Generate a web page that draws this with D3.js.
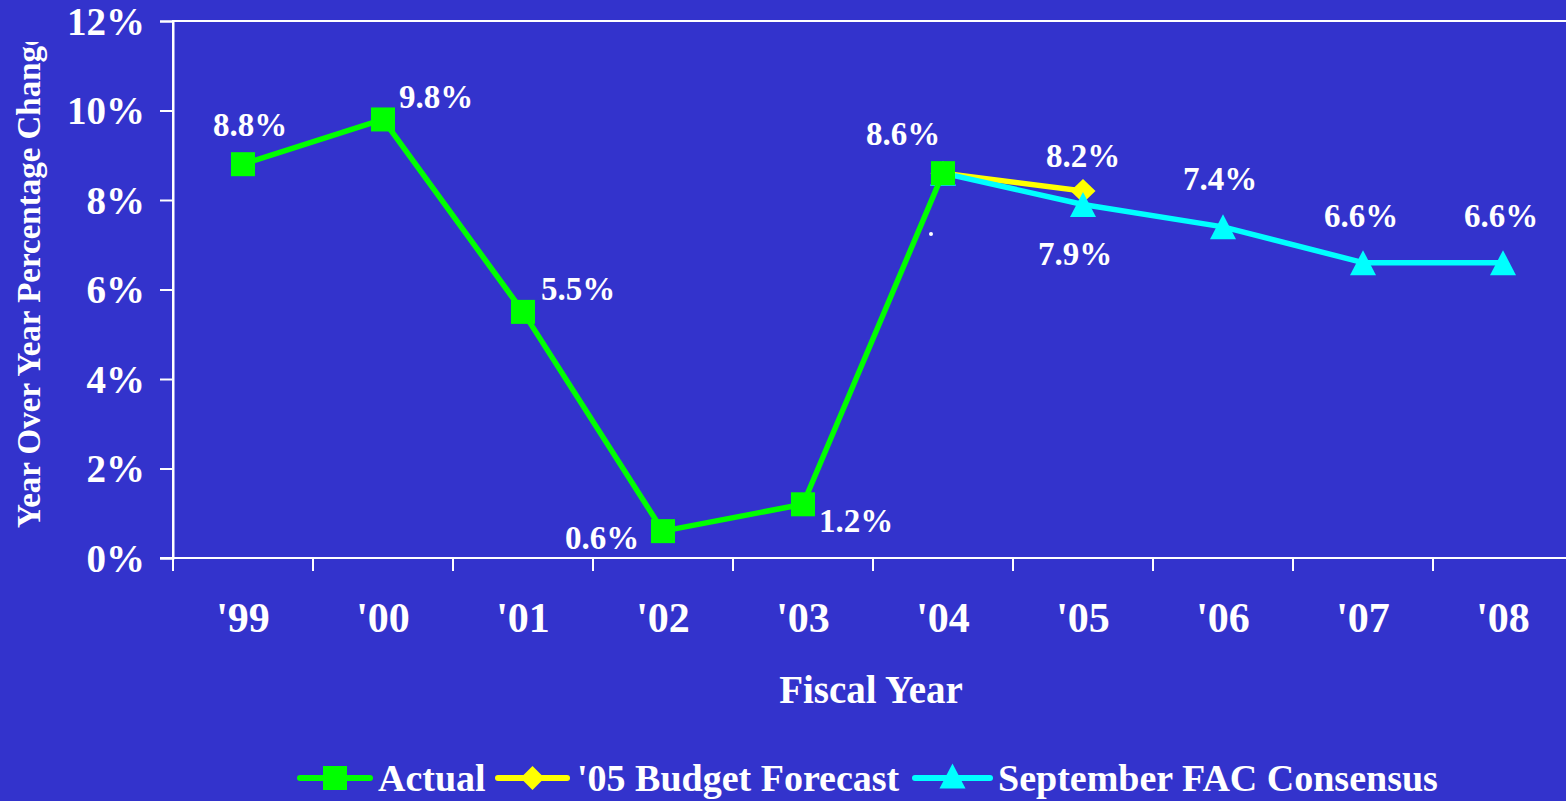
<!DOCTYPE html>
<html>
<head>
<meta charset="utf-8">
<script src="https://cdn.jsdelivr.net/npm/d3@7"></script>
<style>
  html, body { margin: 0; padding: 0; background: #3333CC; }
  svg { display: block; }
  text { font-family: "Liberation Serif", "Times New Roman", serif; font-weight: bold; fill: #ffffff; }
</style>
</head>
<body>
<svg id="chart" width="1566" height="801"></svg>
<script>
// ---- data ----
const categories = ["'99", "'00", "'01", "'02", "'03", "'04", "'05", "'06", "'07", "'08"];
const actualYears = ["'99", "'00", "'01", "'02", "'03", "'04"];
const actualValues = [8.8, 9.8, 5.5, 0.6, 1.2, 8.6];
const budgetYears = ["'04", "'05"];
const budgetValues = [8.6, 8.2];
const consensusYears = ["'04", "'05", "'06", "'07", "'08"];
const consensusValues = [8.6, 7.9, 7.4, 6.6, 6.6];
const yTicks = [0, 2, 4, 6, 8, 10, 12];
const seriesNames = ["Actual", "'05 Budget Forecast", "September FAC Consensus"];

// ---- label placement (layout, not data) ----
const actualLabelOffsets = [[7, -28], [53, -11], [55, -12], [-61, 18], [53, 28], [-40, -28]];
const budgetLabelOffsets = [null, [0, -24]];
const consensusLabelOffsets = [null, [-8, 61], [-3, -37], [-2, -36], [-2, -36]];

const svg = d3.select("#chart");
const W = 1566, H = 801;
const pLeft = 173, pRight = 1573, pTop = 21, pBottom = 558;

svg.append("rect").attr("width", W).attr("height", H).attr("fill", "#3333CC");

const x = d3.scaleBand().domain(categories).range([pLeft, pRight]).padding(0);
const y = d3.scaleLinear().domain([0, 12]).range([pBottom, pTop]);
const cx = d => x(d) + x.bandwidth() / 2;

const GREEN = "#00FF00", YELLOW = "#FFFF00", CYAN = "#00FFFF";

// plot frame
svg.append("rect")
  .attr("x", pLeft).attr("y", pTop)
  .attr("width", pRight - pLeft).attr("height", pBottom - pTop)
  .attr("fill", "none").attr("stroke", "#ffffff").attr("stroke-width", 2);

// y axis
const yAxis = d3.axisLeft(y).tickValues(yTicks).tickSize(13).tickPadding(15)
  .tickFormat(d => d + "%");
const gy = svg.append("g").attr("transform", `translate(${pLeft},0)`).call(yAxis);
gy.select(".domain").attr("stroke", "#ffffff").attr("stroke-width", 2);
gy.selectAll(".tick line").attr("stroke", "#ffffff").attr("stroke-width", 2);
gy.selectAll(".tick text")
  .attr("fill", "#ffffff")
  .style("font-family", '"Liberation Serif", "Times New Roman", serif')
  .style("font-weight", "bold")
  .style("font-size", "39px")
  .attr("dy", "0.34em");

// x axis: labels at band centres, ticks at band boundaries
const xAxis = d3.axisBottom(x).tickSize(0).tickPadding(0);
const gx = svg.append("g").attr("transform", `translate(0,${pBottom})`).call(xAxis);
gx.select(".domain").remove();
gx.selectAll(".tick text")
  .attr("fill", "#ffffff")
  .style("font-family", '"Liberation Serif", "Times New Roman", serif')
  .style("font-weight", "bold")
  .style("font-size", "42px")
  .attr("y", 74).attr("dy", 0);
const boundaries = categories.map(c => x(c)).concat([x.range()[1]]);
svg.append("g").selectAll("line").data(boundaries).join("line")
  .attr("x1", d => d).attr("x2", d => d)
  .attr("y1", pBottom).attr("y2", pBottom + 13)
  .attr("stroke", "#ffffff").attr("stroke-width", 2);
svg.append("line").attr("x1", pLeft - 13).attr("x2", pLeft)
  .attr("y1", pBottom).attr("y2", pBottom).attr("stroke", "#ffffff").attr("stroke-width", 2);

// axis titles
svg.append("text")
  .attr("x", 871).attr("y", 703)
  .attr("text-anchor", "middle")
  .style("font-size", "39px")
  .text("Fiscal Year");

svg.append("clipPath").attr("id", "ytclip")
  .append("rect").attr("x", 0).attr("y", 42).attr("width", 80).attr("height", 760);
svg.append("g").attr("clip-path", "url(#ytclip)")
  .append("text")
  .attr("transform", "translate(40,528) rotate(-90)")
  .attr("text-anchor", "start")
  .style("font-size", "33px")
  .text("Year Over Year Percentage Change");

// line generator
const line = d3.line().x(d => cx(d[0])).y(d => y(d[1]));
const zip = (a, b) => a.map((k, i) => [k, b[i]]);

const actual = zip(actualYears, actualValues);
const budget = zip(budgetYears, budgetValues);
const consensus = zip(consensusYears, consensusValues);

const SQ = 24;
const diamondPath = (px, py, hw, hh) => `M${px},${py - hh}L${px + hw},${py}L${px},${py + hh}L${px - hw},${py}Z`;
const trianglePath = (px, py, hw, hh) => `M${px},${py - hh}L${px + hw},${py + hh}L${px - hw},${py + hh}Z`;

// budget line
svg.append("path").datum(budget).attr("d", line)
  .attr("fill", "none").attr("stroke", YELLOW).attr("stroke-width", 5.5).attr("stroke-linejoin", "round");
// consensus line
svg.append("path").datum(consensus).attr("d", line)
  .attr("fill", "none").attr("stroke", CYAN).attr("stroke-width", 5.5).attr("stroke-linejoin", "round");
// budget markers
svg.append("g").selectAll("path").data(budget).join("path")
  .attr("d", d => diamondPath(cx(d[0]), y(d[1]), 12.5, 12))
  .attr("fill", YELLOW);
// consensus markers
svg.append("g").selectAll("path").data(consensus).join("path")
  .attr("d", d => trianglePath(cx(d[0]), y(d[1]), 13, 12.5))
  .attr("fill", CYAN);
// actual line + markers
svg.append("path").datum(actual).attr("d", line)
  .attr("fill", "none").attr("stroke", GREEN).attr("stroke-width", 5.5).attr("stroke-linejoin", "round");
svg.append("g").selectAll("rect").data(actual).join("rect")
  .attr("x", d => cx(d[0]) - SQ / 2).attr("y", d => y(d[1]) - SQ / 2)
  .attr("width", SQ).attr("height", SQ).attr("fill", GREEN);

// data labels
function labels(data, offsets) {
  svg.append("g").selectAll("text")
    .data(data.map((d, i) => [d, offsets[i]]).filter(e => e[1]))
    .join("text")
    .attr("x", e => cx(e[0][0]) + e[1][0])
    .attr("y", e => y(e[0][1]) + e[1][1])
    .attr("text-anchor", "middle")
    .style("font-size", "33px")
    .text(e => e[0][1].toFixed(1) + "%");
}
labels(actual, actualLabelOffsets);
labels(budget, budgetLabelOffsets);
labels(consensus, consensusLabelOffsets);

// stray dot present in the original slide
svg.append("circle").attr("cx", 931).attr("cy", 234).attr("r", 2).attr("fill", "#ffffff");

// legend
const legendY = 778;
const legendItems = [
  { name: seriesNames[0], color: GREEN, x0: 300, x1: 370, tx: 378, marker: "square" },
  { name: seriesNames[1], color: YELLOW, x0: 498, x1: 567, tx: 577, marker: "diamond" },
  { name: seriesNames[2], color: CYAN, x0: 915, x1: 990, tx: 998, marker: "triangle" }
];
const lg = svg.append("g");
legendItems.forEach(it => {
  lg.append("line").attr("x1", it.x0).attr("x2", it.x1).attr("y1", legendY).attr("y2", legendY)
    .attr("stroke", it.color).attr("stroke-width", 6).attr("stroke-linecap", "round");
  const mx = (it.x0 + it.x1) / 2;
  if (it.marker === "square") {
    lg.append("rect").attr("x", mx - 12).attr("y", legendY - 12).attr("width", 24).attr("height", 24).attr("fill", it.color);
  } else if (it.marker === "diamond") {
    lg.append("path").attr("d", diamondPath(mx, legendY, 12, 12)).attr("fill", it.color);
  } else {
    lg.append("path").attr("d", trianglePath(mx, legendY - 2, 13, 12.5)).attr("fill", it.color);
  }
  lg.append("text").attr("x", it.tx).attr("y", 791).style("font-size", "38px").text(it.name);
});
</script>
</body>
</html>
